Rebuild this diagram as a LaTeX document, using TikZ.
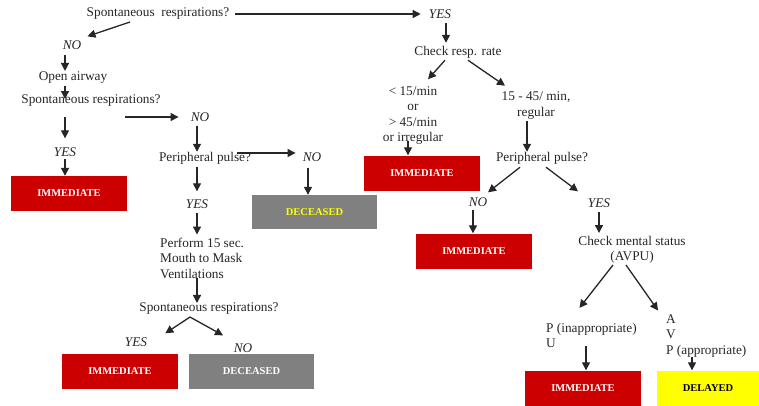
\documentclass[tikz,border=0pt]{standalone}
\usepackage{fontspec}
\setmainfont{Liberation Serif}
\usepackage{tikz}
\usetikzlibrary{arrows.meta}
\definecolor{triagered}{HTML}{CC0000}
\definecolor{triagegray}{HTML}{808080}
\definecolor{triageyellow}{HTML}{FFFF00}
\tikzstyle{txt} = [inner sep=0pt, align=center, text=black!85, font=\fontsize{13.3}{15.5}\selectfont]
\tikzstyle{ans} = [inner sep=0pt, text=black!85, font=\fontsize{13.3}{15.5}\selectfont\itshape]
\tikzstyle{tag} = [inner sep=0pt, minimum width=116pt, minimum height=35pt, font=\fontsize{10.5}{12}\selectfont\bfseries]
\tikzstyle{immediate} = [tag, fill=triagered, text=white]
\tikzstyle{deceased} = [tag, fill=triagegray, minimum width=125pt]
\tikzstyle{delayed} = [tag, fill=triageyellow, text=black, minimum width=102pt]
\tikzstyle{arrow} = [line width=1.3pt, draw=black!85, -{Triangle[length=8pt, width=8pt]}]

\begin{document}
\begin{tikzpicture}[x=1pt, y=-1pt]
        \useasboundingbox (0,0) rectangle (759,405);

        % Left branch: no breathing
        \node[txt] (sr1) at (158,14) {Spontaneous\ \ respirations?};
        \node[ans] (no1) at (72,45) {NO};
        \node[txt] (open) at (73,78) {Open airway};
        \node[txt] (sr2) at (91,101) {Spontaneous respirations?};
        \node[ans] (yes2) at (65,152) {YES};
        \node[immediate] (imm1) at (69,193.5) {IMMEDIATE};
        \node[ans] (no2) at (200,117) {NO};
        \node[txt] (pp1) at (205,158) {Peripheral pulse?};
        \node[ans] (no3) at (312,157) {NO};
        \node[deceased, text=triageyellow, minimum height=34pt] (dec1) at (314.5,212) {DECEASED};
        \node[ans] (yes3) at (197,204) {YES};
        \node[txt, anchor=west, align=left] (perf) at (160,258) {Perform 15 sec.\\Mouth to Mask\\Ventilations};
        \node[txt] (sr3) at (209,309) {Spontaneous respirations?};
        \node[ans] (yes4) at (136,342) {YES};
        \node[ans] (no4) at (243,348) {NO};
        \node[immediate] (imm2) at (120,371.5) {IMMEDIATE};
        \node[deceased, text=white] (dec2) at (251.5,371.5) {DECEASED};

        % Right branch: breathing
        \node[ans] (yes1) at (440,14) {YES};
        \node[txt] (chk) at (458,52) {Check resp. rate};
        \node[txt] (low) at (413,115.5) {< 15/min\\or\\> 45/min\\or irregular};
        \node[immediate] (imm3) at (422,173) {IMMEDIATE};
        \node[txt] (mid) at (536,105.5) {15 - 45/ min,\\regular};
        \node[txt] (pp2) at (542,158) {Peripheral pulse?};
        \node[ans] (no5) at (478,202) {NO};
        \node[immediate] (imm4) at (474,251) {IMMEDIATE};
        \node[ans] (yes5) at (599,203) {YES};
        \node[txt] (cms) at (632,250) {Check mental status\\(AVPU)};
        \node[txt, anchor=west, align=left] (pinap) at (546,335.5) {P (inappropriate)\\U};
        \node[txt, anchor=west, align=left] (avp) at (666,336) {A\\V\\P (appropriate)};
        \node[immediate] (imm5) at (583,388) {IMMEDIATE};
        \node[delayed] (del) at (708,388) {DELAYED};

        % Arrows
        \draw[arrow, shorten <=6pt, shorten >=8pt] (sr1) -- (yes1);
        \draw[arrow] ([xshift=-28pt, yshift=-2pt]sr1.south) -- ([xshift=6pt, yshift=4pt]no1.north east);
        \draw[arrow] ([xshift=-7pt, yshift=-5pt]no1.south) -- ([xshift=-8pt, yshift=1pt]open.north);
        \draw[arrow] ([xshift=-8pt, yshift=-2pt]open.south) -- ([xshift=-26pt, yshift=2pt]sr2.center);
        \draw[arrow] ([xshift=34pt]sr2.south |- no2.west) -- ([xshift=-12pt]no2.west);
        \draw[arrow] ([yshift=-10pt]yes2.north |- sr2.south) -- ([yshift=9pt]yes2.north);
        \draw[arrow] ([yshift=-2pt]yes2.south) -- (yes2.south |- imm1.north);
        \draw[arrow] ([xshift=-3pt, yshift=-4pt]no2.south) -- ([xshift=-3pt]no2.south |- pp1.north);
        \draw[arrow] ([xshift=-14pt, yshift=5pt]pp1.east) -- ([xshift=-7pt, yshift=5pt]pp1.east -| no3.west);
        \draw[arrow] ([xshift=-4pt, yshift=-6pt]no3.south) -- ([xshift=-4pt]no3.south |- dec1.north);
        \draw[arrow] ([yshift=-3pt]yes3.north |- pp1.south) -- ([yshift=8pt]yes3.north);
        \draw[arrow] ([yshift=-4pt]yes3.south) -- ([yshift=3pt]yes3.south |- perf.north);
        \draw[arrow] (yes3.south |- perf.south) -- (yes3.south |- sr3.north);
        \draw[arrow] ([xshift=-19pt, yshift=-2pt]sr3.south) -- ([xshift=18pt, yshift=4pt]yes4.north east);
        \draw[arrow] ([xshift=-19pt, yshift=-2pt]sr3.south) -- ([xshift=-20pt, yshift=8pt]no4.north);

        \draw[arrow] ([xshift=6pt, yshift=-4pt]yes1.south) -- ([xshift=6pt, yshift=3pt]yes1.south |- chk.north);
        \draw[arrow] ([xshift=-13pt, yshift=-2pt]chk.south) -- ([xshift=15pt, yshift=7pt]low.north);
        \draw[arrow] ([xshift=10pt, yshift=-2pt]chk.south) -- ([xshift=-31pt, yshift=6pt]mid.north);
        \draw[arrow] ([xshift=-5pt, yshift=4pt]low.south) -- ([xshift=-5pt]low.south |- imm3.north);
        \draw[arrow] ([xshift=-9pt, yshift=-2pt]mid.south) -- ([xshift=-9pt]mid.south |- pp2.north);
        \draw[arrow] ([xshift=-22pt, yshift=-3pt]pp2.south) -- ([xshift=10pt, yshift=5pt]no5.north);
        \draw[arrow] ([xshift=4pt, yshift=-3pt]pp2.south) -- ([xshift=-21pt, yshift=7pt]yes5.north);
        \draw[arrow] ([xshift=-5pt, yshift=-3pt]no5.south) -- ([xshift=-5pt]no5.south |- imm4.north);
        \draw[arrow] ([yshift=-4pt]yes5.south) -- ([yshift=3pt]yes5.south |- cms.north);
        \draw[arrow] ([xshift=-19pt, yshift=-1pt]cms.south) -- ([xshift=-12pt, yshift=15pt]pinap.north);
        \draw[arrow] ([xshift=-6pt, yshift=-1pt]cms.south) -- ([xshift=-8pt, yshift=4pt]avp.north west);
        \draw[arrow] ([xshift=40pt, yshift=2pt]pinap.south west) -- ([xshift=40pt]pinap.south west |- imm5.north);
        \draw[arrow] ([xshift=26pt, yshift=1pt]avp.south west) -- ([xshift=26pt]avp.south west |- del.north);
    \end{tikzpicture}
\end{document}
